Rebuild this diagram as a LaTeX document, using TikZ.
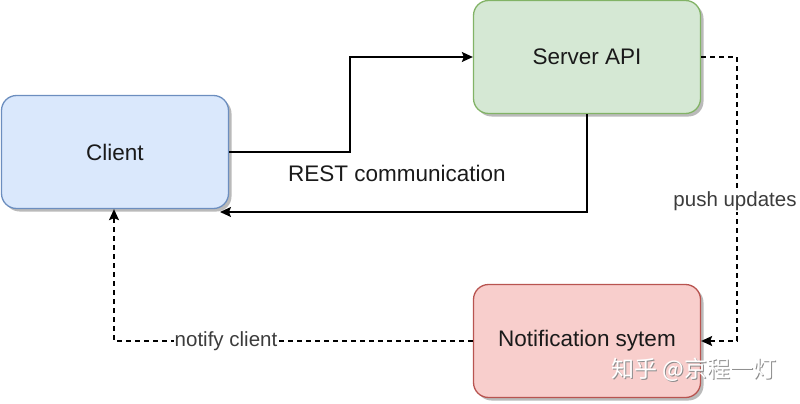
\documentclass[tikz,border=0pt]{standalone}
\usepackage{fontspec}
\setmainfont{Liberation Sans}
\newfontfamily\cjk{Noto Sans CJK SC}
\usetikzlibrary{arrows.meta,shadows}
\definecolor{clientfill}{HTML}{DAE8FC}
\definecolor{clientdraw}{HTML}{6C8EBF}
\definecolor{serverfill}{HTML}{D5E8D4}
\definecolor{serverdraw}{HTML}{82B366}
\definecolor{notiffill}{HTML}{F8CECC}
\definecolor{notifdraw}{HTML}{B85450}
\definecolor{txt}{HTML}{1A1A1A}
\begin{document}
\begin{tikzpicture}[x=1pt,y=-1pt,
  box/.style={rounded corners=15pt, line width=1.3pt, minimum width=227pt, minimum height=113pt,
    text=txt, font=\fontsize{22.5}{27}\selectfont,
    drop shadow={shadow xshift=3pt, shadow yshift=-3pt, fill=black!45, opacity=0.6}},
  conn/.style={line width=1.4pt, -{Stealth[length=11pt,width=10pt,inset=2pt]}},
  dconn/.style={conn, dash pattern=on 5pt off 4pt},
  elabel/.style={fill=white, inner sep=1pt, text=txt!85, font=\fontsize{20.5}{24}\selectfont}]
\useasboundingbox (0,0) rectangle (800,404);
\node[box, fill=clientfill, draw=clientdraw] (client) at (115,152) {Client};
\node[box, fill=serverfill, draw=serverdraw] (server) at (587,57) {Server API};
\node[box, fill=notiffill, draw=notifdraw] (notif) at (587,341) {Notification sytem};

\coordinate (restin) at (220,212);
\draw[conn] (client.east) -- (350,152) -- (350,57) -- (server.west);
\draw[conn] (server.south) -- (587,212) -- (restin);
\node[text=txt, font=\fontsize{22.5}{27}\selectfont] (restlabel) at (397,173) {REST communication};

\draw[dconn] (server.east) -- (737,57) -- (737,341) -- (notif.east);
\node[elabel] (pushlabel) at (735,201) {push updates};

\draw[dconn] (notif.west) -- (114,341) -- (client.south -| 114,0);
\node[elabel] (notifylabel) at (226,341) {notify client};

\node[text=black!45, font=\cjk\fontsize{23}{26}\selectfont] (wm2) at (694.7,370.7) {知乎 @京程一灯};
\node[text=white, font=\cjk\fontsize{23}{26}\selectfont] (wm) at (694,370) {知乎 @京程一灯};
\end{tikzpicture}
\end{document}
